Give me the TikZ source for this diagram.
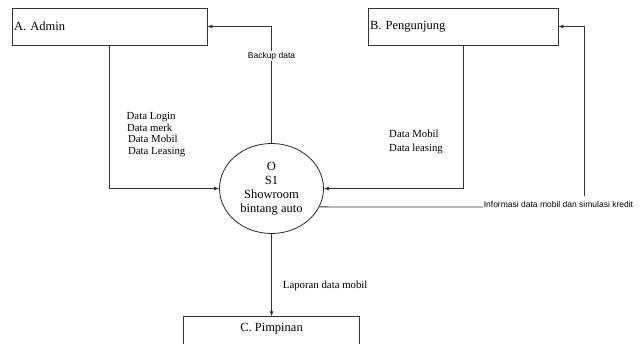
\documentclass[tikz,border=0pt]{standalone}
\usepackage{fontspec}
\setmainfont{Liberation Serif}
\newfontfamily\labelsans{Liberation Sans}
\usetikzlibrary{arrows.meta,shapes.geometric}

\begin{document}
\begin{tikzpicture}[x=1pt,y=-1pt,
  entity/.style={draw=black!80, line width=0.8pt, rectangle, inner sep=0pt,
                 font=\fontsize{12.5}{14}\selectfont},
  process/.style={draw=black!85, line width=0.8pt, ellipse, inner sep=0pt,
                  align=center, font=\fontsize{12.5}{14}\selectfont},
  flow/.style={draw=black!80, line width=0.8pt, -{Latex[length=5pt,width=4pt]}},
  plainline/.style={draw=black!80, line width=0.8pt},
  seriflabel/.style={font=\fontsize{10.8}{11.7}\selectfont, align=left, inner sep=0pt},
  sanslabel/.style={font=\labelsans\fontsize{8.5}{10}\selectfont, inner sep=0.6pt, fill=white},
]
\useasboundingbox (0,0) rectangle (642,343);
\clip (0,0) rectangle (642,343);

% external entities
\node[entity, minimum width=195pt, minimum height=37pt, text width=191pt, align=left]
  (admin) at (109.5,26.5) {A. Admin};
\node[entity, minimum width=190pt, minimum height=37pt, text width=186pt, align=left]
  (peng) at (463,26.5) {B. Pengunjung};
\node[entity, minimum width=176pt, minimum height=36pt] (pim) at (271.5,334.7) {};
\node[font=\fontsize{12.5}{14}\selectfont, inner sep=0pt] (pimtext) at (271.5,329) {C. Pimpinan};

% the process
\node[process, minimum width=104pt, minimum height=90pt] (proc) at (271.5,188.5)
  {O\\S1\\Showroom\\bintang auto};

% flow labels
\node[seriflabel, anchor=north west] (inlabel) at (126.5,112.2)
  {Data Login\\\hspace{0.4pt}Data merk\\\hspace{1.4pt}Data Mobil\\\hspace{1.4pt}Data Leasing};
\node[seriflabel, anchor=north west, font=\fontsize{10.8}{13.7}\selectfont] (visitlabel)
  at (389,130.3) {Data Mobil\\Data leasing};
\node[seriflabel, anchor=west] (replabel) at (282.7,286) {Laporan data mobil};
\node[sanslabel, anchor=base west] (info) at (483,207)
  {Informasi data mobil dan simulasi kredit};
\coordinate (rise) at (584,196);

% data flows
\draw[flow] (admin.south) |- (proc.west);
\draw[flow] (peng.south) |- (proc.east);
\draw[flow] (proc.north) |- (admin.east);
\draw[flow] (proc.south) -- (pim.north);
\draw[plainline] (proc.-21.3) -- (info.base west);
\draw[flow] (rise) |- (peng.east);

\node[sanslabel] (backup) at (271.5,56) {Backup data};
\end{tikzpicture}
\end{document}
